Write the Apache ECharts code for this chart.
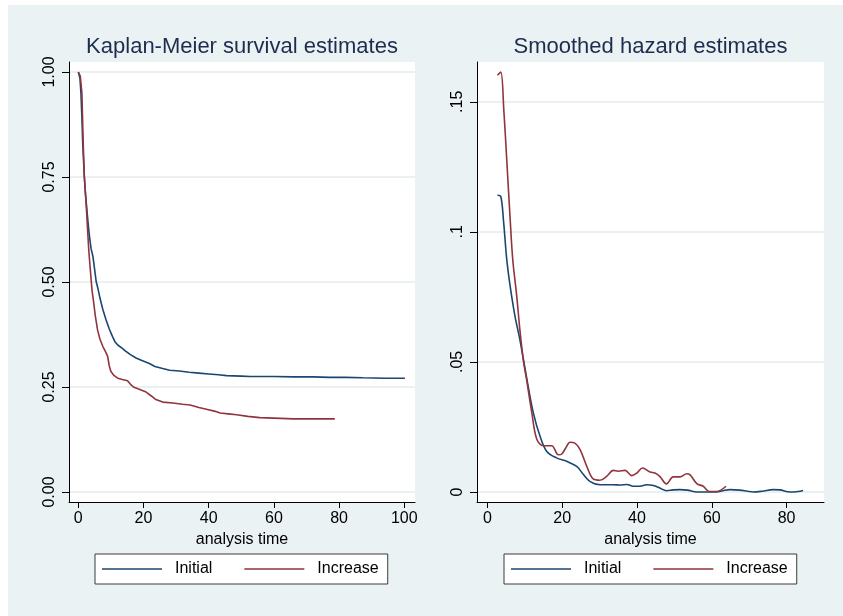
<!DOCTYPE html>
<html>
<head>
<meta charset="utf-8">
<script src="https://cdn.jsdelivr.net/npm/echarts@6/dist/echarts.min.js"></script>
<style>
  html, body { margin: 0; padding: 0; background: #fff; }
  #panel { position: absolute; left: 8px; top: 5px; width: 835px; height: 611px; background: #eaf2f3; }
  #main { position: absolute; left: 0; top: 0; width: 843px; height: 616px; }
</style>
</head>
<body>
<div id="panel"></div>
<div id="main"></div>
<script>
// Kaplan-Meier survival: [analysis time, S(t)]
var kmInitial = [
  [0, 1.0], [0.5, 0.985], [0.8, 0.95], [1.1, 0.89], [1.35, 0.83], [1.6, 0.79], [1.85, 0.75],
  [2.2, 0.71], [2.6, 0.675], [3.0, 0.64], [3.4, 0.61], [3.9, 0.58], [4.5, 0.56], [5.0, 0.53],
  [5.5, 0.50], [6.0, 0.485], [6.7, 0.46], [7.5, 0.435], [8.5, 0.41], [9.5, 0.388], [10.5, 0.37],
  [11.3, 0.357], [12.1, 0.35], [13.5, 0.342], [14.6, 0.335], [16, 0.327], [17.7, 0.319],
  [19.5, 0.313], [21.8, 0.306], [23.5, 0.299], [25.9, 0.294], [28, 0.29], [31, 0.288],
  [34, 0.285], [37, 0.283], [40, 0.281], [43, 0.279], [45.5, 0.277], [50, 0.276], [52.7, 0.275],
  [60, 0.275], [66, 0.274], [72, 0.274], [77.2, 0.273], [82, 0.273], [87.4, 0.272], [94, 0.271],
  [100.2, 0.271]
];
var kmIncrease = [
  [0, 1.0], [0.6, 0.99], [1.1, 0.95], [1.5, 0.83], [1.85, 0.75], [2.5, 0.672], [2.9, 0.617],
  [3.2, 0.577], [3.6, 0.537], [4.2, 0.48], [4.6, 0.458], [5.2, 0.42], [5.9, 0.386], [6.6, 0.365],
  [7.5, 0.347], [8.3, 0.335], [9.0, 0.323], [9.5, 0.30], [10, 0.287], [11, 0.277], [12.1, 0.271],
  [13.5, 0.268], [15.1, 0.265], [16.2, 0.255], [16.9, 0.25], [18.5, 0.245], [20.8, 0.238],
  [22.5, 0.228], [23.8, 0.22], [25.9, 0.214], [29, 0.212], [32, 0.209], [34.3, 0.207],
  [37, 0.201], [39.3, 0.197], [42, 0.192], [43.5, 0.188], [46, 0.186], [48.6, 0.184],
  [52, 0.18], [55.7, 0.177], [60, 0.176], [66, 0.174], [72, 0.174], [78.7, 0.174]
];
// Smoothed hazard: [analysis time, h(t)]
var hzInitial = [
  [2.7, 0.1141], [3.6, 0.1136], [4.3, 0.1047], [5.2, 0.0893], [6.1, 0.0791], [7.4, 0.0675],
  [8.7, 0.0586], [10.5, 0.0440], [12.3, 0.0304], [14.1, 0.0214], [15.9, 0.0156], [18.5, 0.0131],
  [21.2, 0.0118], [23.9, 0.0098], [25.7, 0.0067], [27.4, 0.0041], [30.1, 0.0028], [33.6, 0.0028],
  [35.4, 0.0027], [37.3, 0.0029], [39, 0.0022], [40.8, 0.0022], [42.6, 0.0028], [44.4, 0.0025],
  [46.1, 0.0015], [47.9, 0.0005], [49.7, 0.0008], [51.5, 0.0009], [53.5, 0.0007], [56, 0.0],
  [58.5, 0.0], [61.3, 0.0], [63, 0.0005], [64.9, 0.0009], [67.5, 0.0007], [69.5, 0.0003],
  [71.1, 0.0], [73.5, 0.0003], [76.4, 0.0009], [78.2, 0.0008], [80.9, 0.0], [83.1, 0.0002],
  [84.4, 0.0006]
];
var hzIncrease = [
  [2.7, 0.1602], [3.6, 0.1614], [4.4, 0.147], [5.3, 0.125], [6.1, 0.105], [6.8, 0.0893],
  [7.85, 0.0755], [8.7, 0.0624], [9.6, 0.051], [10.5, 0.0432], [11.9, 0.0304], [13.2, 0.0204],
  [15, 0.0178], [17.2, 0.0178], [19, 0.0143], [19.9, 0.0146], [21, 0.017], [22.1, 0.0191],
  [23.4, 0.0188], [24.8, 0.0163], [26.6, 0.0098], [28.3, 0.005], [30.1, 0.0045], [31.9, 0.006],
  [33.7, 0.0083], [35, 0.008], [36.8, 0.0083], [38.6, 0.0063], [39.9, 0.0072], [41.5, 0.0092],
  [43.5, 0.0077], [44.8, 0.0073], [46.1, 0.006], [47.9, 0.0031], [49.7, 0.0058], [51.5, 0.0058],
  [53.3, 0.007], [54.2, 0.0066], [56, 0.0032], [57.7, 0.0022], [59.3, 0.0002], [61.3, 0.0002],
  [63.8, 0.0022]
];
var seriesNames = ['Initial', 'Increase'];
var titles = ['Kaplan-Meier survival estimates', 'Smoothed hazard estimates'];
var kmXTicks = [0, 20, 40, 60, 80, 100];
var hzXTicks = [0, 20, 40, 60, 80];
var kmYTicks = [0, 0.25, 0.5, 0.75, 1];
var hzYTicks = [0, 0.05, 0.1, 0.15];

var FONT = 'Liberation Sans, Arial, Helvetica, sans-serif';
var navy = '#1a476f';
var maroon = '#90353b';

var xAxisBase = function (gridIndex, min, max, ticks) {
  return {
    type: 'value', gridIndex: gridIndex, min: min, max: max,
    name: 'analysis time', nameLocation: 'middle', nameGap: 26,
    nameTextStyle: { color: '#000', fontSize: 16, fontFamily: FONT },
    axisLine: { onZero: false, lineStyle: { color: '#000', width: 1 } },
    axisTick: { customValues: ticks, length: 6, lineStyle: { color: '#000' } },
    axisLabel: { customValues: ticks, margin: 9, color: '#000', fontSize: 16, fontFamily: FONT },
    splitLine: { show: false }
  };
};
var yAxisBase = function (gridIndex, min, max, ticks, fmt) {
  return {
    type: 'value', gridIndex: gridIndex, min: min, max: max,
    axisLine: { show: true, onZero: false, lineStyle: { color: '#000', width: 1 } },
    axisTick: { show: true, customValues: ticks, length: 7, lineStyle: { color: '#000' } },
    axisLabel: { customValues: ticks, rotate: 90, margin: 11, color: '#000', fontSize: 16,
      fontFamily: FONT, formatter: fmt },
    splitLine: { show: true, lineStyle: { color: '#e4edef', width: 1.5 } }
  };
};
var legendBase = function (left) {
  return {
    left: left, top: 554, data: seriesNames, orient: 'horizontal',
    backgroundColor: '#fff', borderColor: '#3a3a3a', borderWidth: 1, borderRadius: 0,
    padding: [7, 9, 7, 7], itemGap: 32, itemWidth: 60, itemHeight: 1.5, icon: 'rect',
    textStyle: { color: '#000', fontSize: 16, fontFamily: FONT, padding: [0, 0, 0, 8] },
    selectedMode: false
  };
};
var lineSeries = function (name, data, axis, color, smooth) {
  return {
    name: name, type: 'line', data: data, xAxisIndex: axis, yAxisIndex: axis,
    showSymbol: false, symbol: 'none', smooth: smooth,
    lineStyle: { color: color, width: 1.6 }, itemStyle: { color: color },
    silent: true, animation: false
  };
};

var option = {
  animation: false,
  color: [navy, maroon],
  textStyle: { fontFamily: FONT },
  grid: [
    { left: 69, top: 62, width: 346, height: 440, show: true, backgroundColor: '#fff', borderWidth: 0 },
    { left: 477, top: 62, width: 347, height: 440, show: true, backgroundColor: '#fff', borderWidth: 0 }
  ],
  xAxis: [
    xAxisBase(0, -2.86, 103.3, kmXTicks),
    xAxisBase(1, -2.76, 90, hzXTicks)
  ],
  yAxis: [
    yAxisBase(0, -0.0238, 1.0238, kmYTicks, function (v) { return v.toFixed(2); }),
    yAxisBase(1, -0.00385, 0.1653, hzYTicks, function (v) {
      return v === 0 ? '0' : String(+v.toFixed(2)).replace(/^0/, '');
    })
  ],
  legend: [legendBase(95), legendBase(504)],
  graphic: [
    { type: 'text', x: 242, y: 47, style: { text: titles[0], fill: '#1e2d4f', fontSize: 22,
      fontFamily: FONT, textAlign: 'center', textVerticalAlign: 'middle' } },
    { type: 'text', x: 650.5, y: 47, style: { text: titles[1], fill: '#1e2d4f', fontSize: 22,
      fontFamily: FONT, textAlign: 'center', textVerticalAlign: 'middle' } }
  ],
  series: [
    lineSeries(seriesNames[0], kmInitial, 0, navy, false),
    lineSeries(seriesNames[1], kmIncrease, 0, maroon, false),
    lineSeries(seriesNames[0], hzInitial, 1, navy, 0.35),
    lineSeries(seriesNames[1], hzIncrease, 1, maroon, 0.35)
  ]
};

var myChart = echarts.init(document.getElementById('main'), null, { renderer: 'canvas' });
myChart.setOption(option);
</script>
</body>
</html>
